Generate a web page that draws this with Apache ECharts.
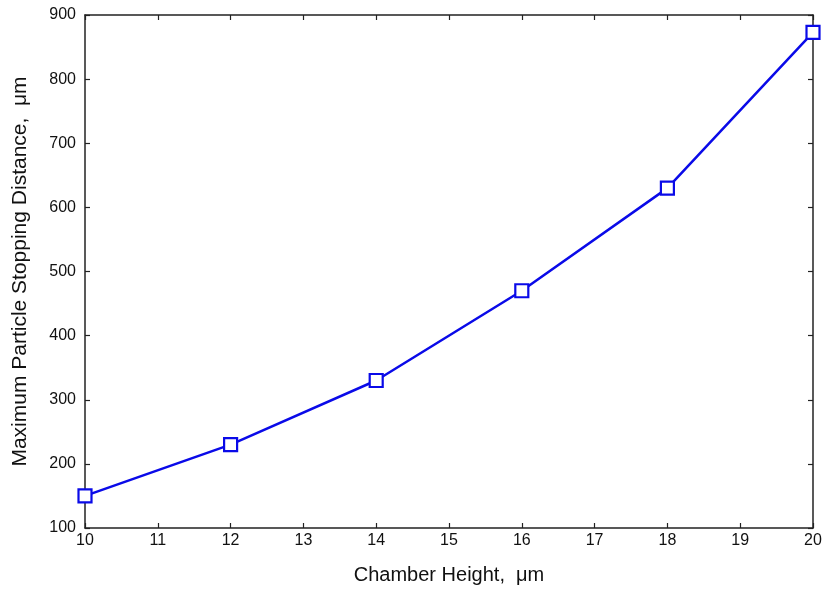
<!DOCTYPE html>
<html>
<head>
<meta charset="utf-8">
<script src="https://cdn.jsdelivr.net/npm/echarts@6/dist/echarts.min.js"></script>
<style>
  html, body { margin: 0; padding: 0; background: #fff; }
  #chart { width: 826px; height: 590px; }
</style>
</head>
<body>
<div id="chart"></div>
<script>
// chamber height (um) vs max stopping distance (um)
const chamberHeight = [10, 12, 14, 16, 18, 20]
const stoppingDistance = [150, 230, 330, 470, 630, 873]

const chart = echarts.init(document.getElementById('chart'))

const axisLine = { show: true, lineStyle: { color: '#222', width: 1.5 } }
const tickIn = { show: true, inside: true, length: 5, lineStyle: { color: '#222', width: 1.2 } }
const labelStyle = { color: '#111', fontFamily: 'Liberation Sans, Arial', fontSize: 16 }
const nameStyle = { color: '#111', fontFamily: 'Liberation Sans, Arial', fontSize: 20 }

chart.setOption({
  animation: false,
  grid: { left: 85, right: 13, top: 15, bottom: 61, containLabel: false },
  xAxis: [
    {
      type: 'value', min: 10, max: 20, interval: 1,
      position: 'bottom',
      name: 'Chamber Height,  \u03bcm',
      nameLocation: 'middle', nameGap: 37,
      nameTextStyle: nameStyle,
      axisLine, axisTick: tickIn,
      axisLabel: { ...labelStyle, margin: 5, showMinLabel: true, showMaxLabel: true },
      splitLine: { show: false }
    },
    {
      type: 'value', min: 10, max: 20, interval: 1,
      position: 'top',
      axisLine, axisTick: tickIn,
      axisLabel: { show: false },
      splitLine: { show: false }
    }
  ],
  yAxis: [
    {
      type: 'value', min: 100, max: 900, interval: 100,
      position: 'left',
      name: 'Maximum Particle Stopping Distance,  \u03bcm',
      nameLocation: 'middle', nameGap: 54,
      nameTextStyle: { ...nameStyle, fontSize: 21 },
      axisLine, axisTick: tickIn,
      axisLabel: { ...labelStyle, margin: 9 },
      splitLine: { show: false }
    },
    {
      type: 'value', min: 100, max: 900, interval: 100,
      position: 'right',
      axisLine, axisTick: tickIn,
      axisLabel: { show: false },
      splitLine: { show: false }
    }
  ],
  series: [
    {
      type: 'line',
      data: chamberHeight.map((h, i) => [h, stoppingDistance[i]]),
      symbol: 'rect',
      symbolSize: 13,
      showAllSymbol: true,
      clip: false,
      lineStyle: { color: '#0a0ae8', width: 2.5 },
      itemStyle: { color: '#fff', borderColor: '#0a0ae8', borderWidth: 2.2 }
    }
  ]
})
</script>
</body>
</html>
